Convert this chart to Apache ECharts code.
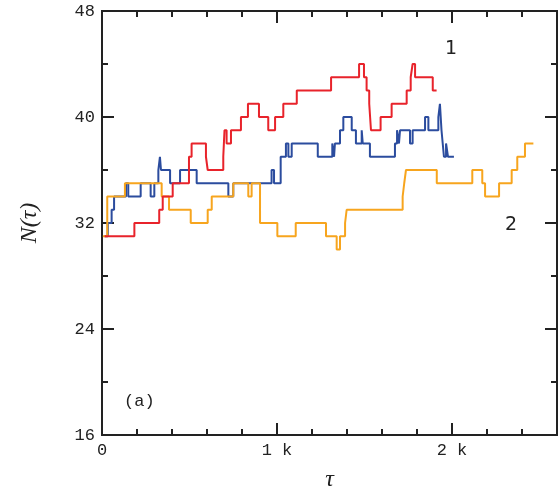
<!DOCTYPE html>
<html>
<head>
<meta charset="utf-8">
<script src="https://cdn.jsdelivr.net/npm/echarts@6/dist/echarts.min.js"></script>
<style>
  html, body { margin: 0; padding: 0; background: #fff; }
  #chart { width: 559px; height: 491px; }
</style>
</head>
<body>
<div id="chart"></div>
<script>
// Step series: each entry is [tau where the level starts, N level]
const curve1Tau = [15,185,327,347,404,497,512,594,604,693,700,712,737,794,834,897,950,989,1036,1113,1309,1469,1497,1512,1527,1537,1592,1655,1741,1764,1775,1789,1890,1912];
const curve1N   = [31,32,33,34,35,37,38,37,36,37,39,38,39,40,41,40,39,40,41,42,43,44,43,42,41,39,40,41,42,43,44,43,42,42];

const curve3Tau = [15,33,55,69,137,150,221,278,299,322,331,337,389,446,541,722,750,969,983,1021,1051,1065,1084,1233,1316,1326,1331,1360,1379,1427,1451,1484,1490,1531,1674,1686,1697,1703,1760,1775,1846,1865,1922,1931,1940,1947,1954,1966,1977,2011];
const curve3N   = [31,32,33,34,35,34,35,34,35,36,37,36,35,36,35,34,35,36,35,37,38,37,38,37,38,37,38,39,40,39,38,39,38,37,38,39,38,39,38,39,40,39,40,41,39,38,37,38,37,37];

const curve2Tau = [5,30,131,341,383,507,604,627,750,836,855,903,1002,1107,1280,1341,1360,1389,1398,1718,1727,1737,1913,2116,2173,2189,2269,2341,2373,2417,2465];
const curve2N   = [31,34,35,34,33,32,33,34,35,34,35,32,31,32,31,30,31,32,33,34,35,36,35,36,35,34,35,36,37,38,38];

const yTicks = [16, 24, 32, 40, 48];
const xTickLabels = {0: '0', 1000: '1 k', 2000: '2 k'};

const pair = (xs, ys) => xs.map((x, i) => [x, ys[i]]);

const INK = '#222';
const monoFont = 'Liberation Mono';

function xAxisDef(position, interval, tickLen, showLabels) {
  return {
    type: 'value', position: position, min: 0, max: 2600, interval: interval,
    axisLine: { show: true, onZero: false, lineStyle: { color: INK, width: 2 } },
    axisTick: { show: true, inside: true, length: tickLen, lineStyle: { color: INK, width: 2 } },
    axisLabel: {
      show: showLabels, color: INK, fontFamily: monoFont, fontSize: 17, margin: 7,
      formatter: v => (xTickLabels[v] !== undefined ? xTickLabels[v] : '')
    },
    splitLine: { show: false }
  };
}

function yAxisDef(position, showLabels) {
  return {
    type: 'value', position: position, min: yTicks[0], max: yTicks[yTicks.length - 1], interval: 8,
    axisLine: { show: true, onZero: false, lineStyle: { color: INK, width: 2 } },
    axisTick: { show: true, inside: true, length: 12, lineStyle: { color: INK, width: 2 } },
    minorTick: { show: true, splitNumber: 2, length: 6, lineStyle: { color: INK, width: 2 } },
    axisLabel: { show: showLabels, color: INK, fontFamily: monoFont, fontSize: 17, margin: 7 },
    splitLine: { show: false }
  };
}

const xMain = xAxisDef('bottom', 1000, 12, true);
xMain.name = 'τ';
xMain.nameLocation = 'middle';
xMain.nameGap = 33;
xMain.nameTextStyle = { fontFamily: 'Liberation Serif', fontStyle: 'italic', fontSize: 24, color: INK };

const yMain = yAxisDef('left', true);
yMain.name = 'N(τ)';
yMain.nameLocation = 'middle';
yMain.nameGap = 60;
yMain.nameTextStyle = { fontFamily: 'Liberation Serif', fontStyle: 'italic', fontSize: 24, color: INK };

const lineSeries = (data, color) => ({
  type: 'line', step: 'end', data: data, showSymbol: false, symbol: 'none',
  xAxisIndex: 0, yAxisIndex: 0, animation: false,
  lineStyle: { color: color, width: 2 }
});

const chart = echarts.init(document.getElementById('chart'), null, { renderer: 'canvas' });
chart.setOption({
  animation: false,
  backgroundColor: '#fff',
  grid: { left: 102, right: 2, top: 11, bottom: 56, containLabel: false, outerBoundsMode: 'none' },
  xAxis: [
    xMain,
    xAxisDef('bottom', 200, 6, false),
    xAxisDef('top', 1000, 12, false),
    xAxisDef('top', 200, 6, false)
  ],
  yAxis: [yMain, yAxisDef('right', false)],
  series: [
    lineSeries(pair(curve3Tau, curve3N), '#2b4c9e'),
    lineSeries(pair(curve2Tau, curve2N), '#f7a51e'),
    lineSeries(pair(curve1Tau, curve1N), '#e8232b')
  ],
  graphic: [
    { type: 'text', left: 445, top: 40, style: { text: '1', font: '19px "DejaVu Sans"', fill: INK } },
    { type: 'text', left: 505, top: 216, style: { text: '2', font: '19px "DejaVu Sans"', fill: INK } },
    { type: 'text', left: 124, top: 393, style: { text: '(a)', font: '17px "Liberation Mono"', fill: INK } }
  ]
});
</script>
</body>
</html>
